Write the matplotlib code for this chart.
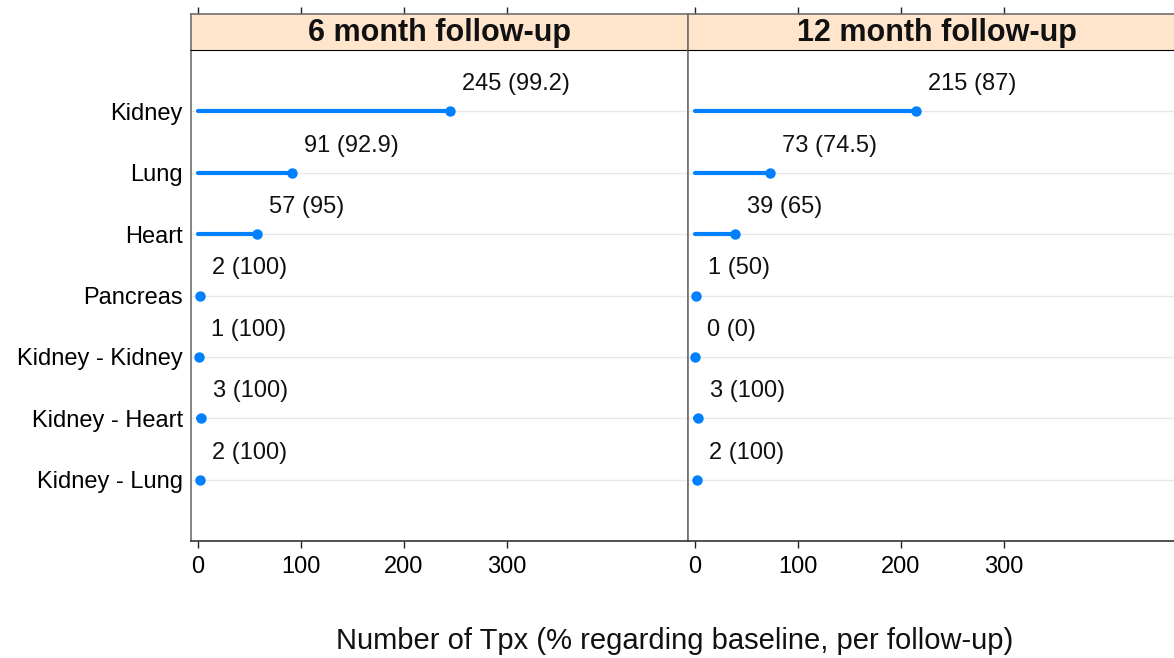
import matplotlib
matplotlib.use("Agg")
import matplotlib.pyplot as plt

plt.rcParams['font.family'] = ['Liberation Sans', 'DejaVu Sans']

categories = ["Kidney", "Lung", "Heart", "Pancreas", "Kidney - Kidney", "Kidney - Heart", "Kidney - Lung"]
panels = ["6 month follow-up", "12 month follow-up"]
counts_6m = [245, 91, 57, 2, 1, 3, 2]
pct_6m = ["99.2", "92.9", "95", "100", "100", "100", "100"]
counts_12m = [215, 73, 39, 1, 0, 3, 2]
pct_12m = ["87", "74.5", "65", "50", "0", "100", "100"]
xticks = [0, 100, 200, 300]

W, H = 1174, 658
fig = plt.figure(figsize=(W / 100, H / 100), dpi=100)

blue = '#0080ff'
frame = '#707070'
xlim = (-6.8, 475.7)
ylim = (0, 8)

panel_left = [191, 688]
panel_w = 497
p_top, p_bot = 50, 541
s_top = 14

n = len(categories)
ypos = [n - i for i in range(n)]

for k, (title, counts, pcts) in enumerate([(panels[0], counts_6m, pct_6m), (panels[1], counts_12m, pct_12m)]):
    x0 = panel_left[k] / W
    ax = fig.add_axes([x0, (H - p_bot) / H, panel_w / W, (p_bot - p_top) / H])
    sax = fig.add_axes([x0, (H - p_top) / H, panel_w / W, (p_top - s_top) / H], sharex=ax)
    ax.set_xlim(*xlim)
    ax.set_ylim(*ylim)
    for y in ypos:
        ax.axhline(y, color='#e8e8e8', lw=1.0, zorder=1)
    for y, c, p in zip(ypos, counts, pcts):
        ax.plot([0, c], [y, y], color=blue, lw=3.0, solid_capstyle='round', zorder=3)
        ax.plot([c], [y], 'o', color=blue, ms=6.5, zorder=4)
        ax.annotate(f"{c} ({p})", xy=(c, y), xytext=(8.5, 19.5), textcoords='offset points',
                    ha='left', va='center', fontsize=17, color='#111111')
    ax.set_xticks(xticks)
    ax.set_xticklabels([str(t) for t in xticks], fontsize=17)
    ax.tick_params(axis='x', direction='out', length=5, width=1, color='#222222', pad=6)
    if k == 0:
        ax.set_yticks(ypos)
        ax.set_yticklabels(categories, fontsize=17)
        ax.tick_params(axis='y', length=0, pad=6)
    else:
        ax.set_yticks([])
    for s in ['left', 'right', 'top']:
        ax.spines[s].set_color(frame)
        ax.spines[s].set_linewidth(1.2)
    ax.spines['top'].set_color('black')
    ax.spines['bottom'].set_color('#333333')
    ax.spines['bottom'].set_linewidth(1.2)

    sax.set_facecolor('#ffe5cc')
    sax.set_ylim(0, 1)
    sax.tick_params(axis='x', which='both', bottom=False, labelbottom=False, top=True,
                    labeltop=False, direction='out', length=5, width=1, color='#222222')
    sax.set_yticks([])
    for s in ['left', 'right', 'top']:
        sax.spines[s].set_color(frame)
        sax.spines[s].set_linewidth(1.2)
    sax.spines['bottom'].set_color('black')
    sax.text(0.5, 0.48, title, transform=sax.transAxes, ha='center', va='center',
             fontsize=22, fontweight='bold', color='#111111')

fig.text(674.5 / W, (H - 641) / H, "Number of Tpx (% regarding baseline, per follow-up)",
         ha='center', va='center', fontsize=21, color='#111111')

fig.savefig("out.png", dpi=100)
